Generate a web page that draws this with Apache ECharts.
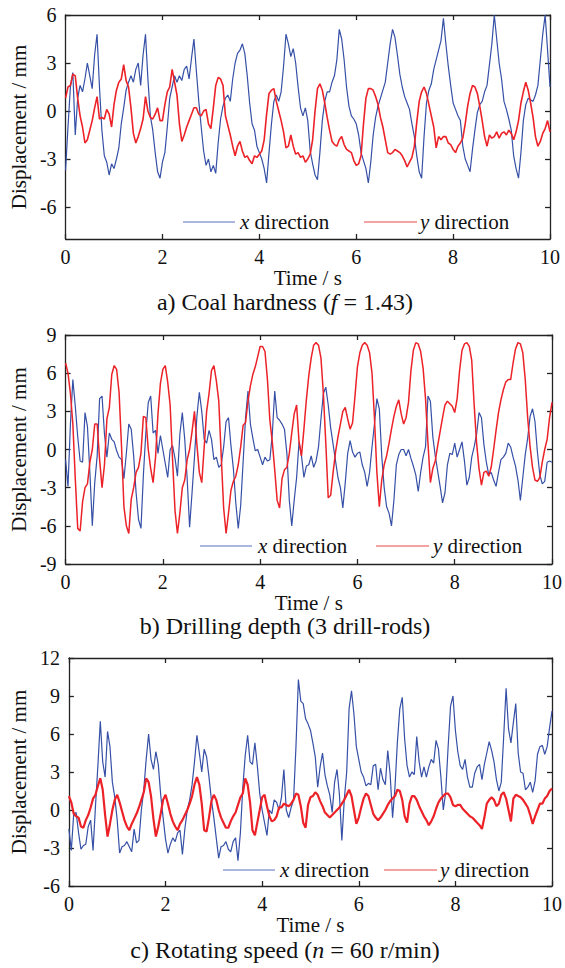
<!DOCTYPE html>
<html><head><meta charset="utf-8">
<script src="https://cdn.jsdelivr.net/npm/echarts@6/dist/echarts.min.js"></script>
<style>
html,body{margin:0;padding:0;background:#fff}
#c{width:565px;height:968px}
#c svg text, #c svg tspan{font-family:"Liberation Serif","Times New Roman",serif !important;}
</style>
</head><body><div id="c"></div>
<script>
// Sampling grid: 0 to 10 s, step 0.05 s
const sampleTimes = Array.from({length: 201}, (_, i) => Math.round(i * 5) / 100);
const xTicks = [0, 2, 4, 6, 8, 10];
const yTicksA = [-6, -3, 0, 3, 6];
const seriesNames = ['x direction', 'y direction'];

// a) Coal hardness (f = 1.43)
const aX = [
-3.7,-1.0,1.5,2.4,-1.5,0.8,1.6,1.2,2.0,3.0,2.2,1.4,3.5,4.8,1.5,-1.2,-2.8,-3.2,-4.0,-3.3,
-3.6,-3.0,-2.3,-0.8,0.2,1.3,1.8,2.2,1.8,2.6,3.0,1.6,3.5,4.8,2.0,-0.3,-1.2,-2.6,-3.8,-4.2,
-3.2,-2.6,-1.0,0.8,1.5,2.2,1.8,2.2,1.9,2.6,2.8,2.0,3.3,4.5,2.5,0.6,-1.0,-2.5,-3.4,-3.0,
-3.8,-3.4,-3.9,-2.0,-0.5,0.3,0.8,1.0,0.6,2.0,3.0,3.6,3.8,4.2,3.6,2.2,0.5,-0.8,-1.2,-2.2,
-2.6,-3.0,-3.6,-4.5,-2.6,-0.8,0.6,1.0,0.6,1.2,2.8,4.8,4.2,3.4,3.9,3.0,1.5,0.2,-0.3,0.2,
-0.6,-2.5,-3.3,-4.0,-4.3,-2.6,-0.6,0.6,1.2,1.2,1.8,2.2,3.2,5.1,4.5,3.2,1.5,0.3,-0.3,-0.5,
-0.8,-1.5,-2.6,-3.1,-3.6,-4.5,-3.2,-1.5,-0.4,0.3,0.8,1.3,1.8,3.0,4.2,5.1,4.6,3.5,2.3,1.5,
0.9,0.5,0.1,-0.8,-1.6,-2.8,-3.8,-4.2,-1.6,0.5,1.3,1.7,2.6,3.2,3.8,4.4,5.8,4.2,2.8,1.6,
0.5,0.1,-0.3,-0.6,-2.2,-3.0,-3.4,-3.8,-2.4,-1.2,-0.1,0.4,0.6,1.2,1.6,2.9,4.2,6.0,4.5,3.0,
2.0,0.6,0.1,-0.5,-1.2,-2.8,-3.6,-4.2,-2.6,-0.6,0.4,0.8,0.7,0.6,1.0,1.6,3.2,4.8,6.0,3.8,
1.5];
const aY = [
0.8,1.5,1.6,2.3,2.2,0.8,-0.3,-1.0,-2.0,-1.8,-1.2,-0.6,0.2,0.9,-0.5,-0.4,-0.5,0.1,-0.2,-1.0,
0.4,1.3,1.8,2.0,2.9,1.9,1.5,0.2,-1.4,-2.0,-1.6,-1.1,-0.5,0.9,0.0,-0.4,-0.5,-0.2,0.2,-0.6,
-0.6,0.4,1.2,1.5,2.6,1.8,1.0,-0.8,-1.9,-1.5,-1.0,-0.6,-0.2,0.2,0.2,-0.2,-0.3,0.0,0.1,-0.8,
-1.1,0.2,1.6,2.1,2.0,1.6,-0.3,-0.9,-1.5,-2.2,-2.8,-2.2,-1.9,-2.5,-2.9,-2.8,-3.1,-3.3,-2.8,-2.9,
-2.7,-2.5,-1.8,-0.2,1.1,1.3,1.4,0.6,0.0,-0.6,-1.3,-2.3,-2.2,-1.5,-2.2,-2.7,-2.6,-2.9,-2.8,-3.2,
-3.0,-2.7,-1.8,0.0,1.4,1.7,1.3,0.5,-0.4,-1.2,-1.9,-2.1,-2.2,-1.8,-1.6,-2.1,-2.4,-2.5,-2.6,-3.1,
-3.4,-3.3,-2.8,-0.8,0.8,1.4,1.4,1.3,0.9,0.4,-0.4,-1.0,-1.8,-2.6,-2.7,-2.6,-2.4,-2.5,-2.6,-2.8,
-3.1,-3.5,-3.2,-2.9,-2.2,-0.7,0.6,1.2,1.5,1.1,0.4,-0.3,-1.0,-2.3,-1.6,-1.8,-1.6,-1.6,-2.0,-2.1,
-2.4,-2.6,-2.2,-2.0,-1.7,-0.8,0.3,1.1,1.6,1.5,1.1,0.3,-0.6,-1.6,-2.2,-1.5,-1.7,-1.6,-1.3,-1.7,
-1.4,-1.3,-1.5,-1.2,-1.4,-1.8,-1.3,-0.6,0.5,1.2,1.8,1.3,0.5,-0.4,-1.6,-2.2,-1.9,-1.4,-1.1,-0.6,
-1.3];

// b) Drilling depth (3 drill-rods)
const bX = [
-0.8,-2.9,2.0,5.5,3.4,1.0,-0.9,-1.0,2.9,1.8,-1.8,-6.0,-2.6,-0.5,4.0,4.2,1.2,-0.6,1.3,0.8,
0.6,-0.1,-0.6,-0.8,-2.3,-0.3,2.0,1.6,-0.5,-3.4,-5.5,-6.2,-2.0,1.3,3.7,4.2,1.3,1.5,-0.3,1.1,
0.0,-1.1,-2.2,0.0,0.3,-0.7,-2.1,1.2,2.9,0.8,-2.3,-6.1,-3.4,-0.6,2.6,4.5,3.0,0.8,0.5,1.5,
0.8,-0.8,-0.6,-1.4,-1.2,0.2,2.2,2.5,0.3,-1.5,-4.2,-6.2,-4.4,-1.0,2.5,4.6,2.0,0.9,-0.1,0.0,
-0.6,-1.2,-0.6,-0.9,-0.8,1.2,4.6,2.5,2.3,2.0,1.6,-0.3,-4.0,-6.0,-4.0,-2.2,0.6,-0.5,-2.2,-1.3,
-1.2,-0.5,-1.4,-0.9,0.2,2.4,4.4,4.9,3.5,1.7,0.4,-0.9,-2.2,-3.0,-4.6,-2.6,-0.3,0.7,-0.2,-0.6,
-0.3,-0.2,-1.2,-1.8,-2.9,-1.8,0.2,2.0,4.0,3.2,-0.5,-3.0,-4.5,-5.0,-6.0,-4.0,-1.2,-0.4,0.0,0.0,
-0.5,0.0,-0.7,-1.3,-2.0,-3.3,-1.8,-0.6,0.2,4.2,3.8,1.0,-0.5,-1.7,-2.9,-4.2,-3.4,-1.2,-0.3,-0.4,
0.5,-0.6,0.0,0.6,-0.9,-2.8,-2.2,-0.6,0.2,1.2,2.9,2.5,0.4,-1.0,-2.0,-1.8,-2.4,-2.9,-1.8,-0.8,
-0.6,-0.3,0.5,0.2,-0.6,-1.3,-2.4,-4.0,-2.2,-0.4,0.9,2.6,3.2,2.2,-0.2,-2.0,-2.7,-2.5,-1.0,-0.9,
-1.0];
const bY = [
6.8,6.0,4.4,2.0,-2.3,-6.2,-6.4,-4.1,-3.0,-2.7,-1.0,0.0,2.0,2.0,-0.8,-3.0,-1.2,2.4,3.3,5.9,
6.6,6.3,4.5,0.3,-4.5,-6.0,-6.6,-3.9,-3.0,-1.8,-1.4,-0.3,2.6,2.5,0.0,-1.5,-2.6,-0.6,2.8,5.2,
6.3,6.6,5.3,3.5,-0.8,-4.8,-6.6,-5.0,-3.0,-2.4,-0.8,0.0,1.4,3.0,0.4,-1.8,-2.6,0.2,3.0,4.4,
6.2,6.6,5.4,3.8,-0.5,-4.6,-6.6,-5.0,-3.2,-2.5,-2.1,-1.2,0.2,1.9,2.1,3.8,5.0,5.9,6.5,7.3,
8.1,8.1,7.7,5.5,2.3,0.6,-1.6,-4.0,-4.6,-2.3,-1.6,-1.4,-0.3,1.3,2.8,3.5,0.6,-0.5,1.6,3.9,
5.8,7.2,8.2,8.4,8.2,7.2,4.4,0.5,-3.8,-3.6,-1.8,-0.2,1.0,2.0,3.0,3.3,2.4,1.6,2.1,4.2,
6.5,7.6,8.2,8.4,8.2,7.6,6.0,2.5,-1.8,-4.5,-2.4,-1.2,-0.5,0.5,1.6,2.6,3.4,3.9,2.8,2.0,
2.5,3.7,6.2,7.8,8.4,8.3,7.7,6.4,4.0,0.5,-2.6,-1.5,-0.9,0.3,1.4,2.5,3.5,3.8,3.6,3.4,
2.9,4.0,6.2,7.8,8.3,8.4,8.1,7.0,3.5,0.5,-1.5,-2.8,-1.8,-1.7,-2.1,-1.4,0.0,1.5,2.9,3.9,
4.7,5.3,5.5,5.5,6.8,7.9,8.4,8.3,7.6,5.5,2.5,0.2,-1.4,-2.4,-2.5,-2.2,-1.0,0.0,0.8,2.5,
3.7];

// c) Rotating speed (n = 60 r/min)
const cX = [
-1.5,-3.2,-0.3,-0.2,-1.8,-3.1,-2.8,-2.7,-1.3,-0.8,-3.2,0.3,3.5,7.0,3.8,2.6,6.2,5.0,2.2,1.0,
-0.8,-3.4,-2.9,-2.8,-2.5,-2.9,-3.3,-1.5,-2.6,-2.4,0.0,1.6,4.0,6.0,4.0,3.2,4.6,3.6,1.2,-0.6,
-2.3,-3.4,-2.7,-2.2,-2.5,-1.8,-1.6,-3.5,-1.5,0.0,0.8,2.0,3.8,5.9,4.5,3.0,4.8,4.2,2.6,0.8,
-0.6,-2.2,-3.8,-2.9,-2.8,-2.5,-3.1,-3.3,-2.5,-2.2,-4.0,-1.8,1.8,4.3,5.9,3.8,3.6,5.3,3.5,1.3,
0.0,-1.0,-2.0,0.0,-0.3,0.8,0.6,0.0,1.0,3.2,0.0,-0.6,0.2,0.8,5.0,10.3,8.6,8.4,7.2,6.8,
6.3,5.3,4.2,1.8,3.4,4.5,2.8,1.9,1.2,-0.2,2.2,3.2,1.2,-2.4,0.8,3.0,8.0,9.4,7.6,5.0,
4.0,3.0,2.6,1.9,2.1,2.0,3.5,3.6,1.6,3.3,2.4,2.0,4.7,2.8,-0.6,1.8,5.4,8.0,8.9,5.6,
3.5,2.6,3.0,2.8,5.8,3.8,2.6,3.4,2.6,3.4,4.0,3.7,5.5,4.8,2.6,0.0,1.4,5.0,8.2,9.0,
6.3,4.6,3.5,3.2,4.0,2.6,1.8,1.8,2.9,3.4,3.6,2.4,3.6,4.5,5.4,4.7,3.8,2.4,1.5,2.2,
5.8,9.6,6.4,5.3,6.9,8.4,4.5,3.0,2.9,1.6,1.8,2.2,1.4,2.3,4.4,5.0,5.1,4.4,5.0,6.5,
7.8];
const cY = [
1.1,0.6,-0.3,-0.5,-0.6,-1.3,-1.4,-0.8,-0.4,0.2,0.9,1.2,1.9,2.5,1.6,-0.4,-2.1,-1.1,0.0,0.8,
1.2,0.6,-0.1,-0.8,-1.3,-1.6,-1.1,-0.7,-0.3,0.2,0.8,1.4,2.5,2.2,1.1,-0.7,-2.1,-1.3,-0.3,0.8,
1.2,0.5,-0.3,-0.9,-1.3,-1.6,-1.1,-0.8,-0.4,0.0,0.5,1.1,2.0,2.6,2.0,0.5,-1.6,-1.7,-0.6,0.7,
1.2,0.8,0.0,-0.6,-1.0,-1.4,-1.4,-0.9,-0.5,-0.2,0.4,1.0,1.3,2.5,2.0,0.6,-1.6,-2.0,-1.0,0.0,
1.0,1.2,0.3,-0.5,-0.9,-0.8,-0.5,0.2,0.2,0.5,0.4,0.3,0.5,0.8,1.3,1.2,0.3,-1.0,-1.4,0.4,
1.0,1.1,1.4,1.2,0.7,0.3,-0.2,-0.4,-0.6,-0.4,-0.2,0.0,0.2,0.5,0.8,1.2,1.6,1.1,0.0,-1.1,
-0.6,0.2,0.9,1.3,1.1,0.4,-0.3,-0.6,-0.8,-0.6,-0.3,0.0,0.4,0.7,0.9,1.1,1.6,1.5,0.8,-0.5,
-1.0,0.5,1.1,1.1,0.8,0.3,-0.1,-0.5,-0.8,-1.2,-0.9,-0.5,0.1,0.6,0.9,1.1,1.3,1.3,1.0,0.4,
0.3,0.4,0.4,0.1,-0.1,-0.3,-0.5,-0.6,-0.8,-1.0,-1.2,-1.5,-0.6,0.5,0.8,1.0,0.8,0.3,0.5,1.2,
1.4,0.9,0.0,-0.9,0.9,1.2,1.1,1.0,0.8,0.5,0.2,-0.4,-1.1,-0.5,0.0,0.5,0.5,0.9,1.1,1.5,
1.7];

(function () {
  const SERIF = 'Liberation Serif';
  const TXT = '#111';
  const AX = '#222';
  const BLUE = '#3550a6';
  const RED = '#ec2228';
  const BLUE_LEG = '#8e9fd4';
  const RED_LEG = '#f08383';

  const pairs = vals => sampleTimes.map((t, i) => [t, vals[i]]);

  const panels = [
    {grid: {left: 60, top: 15, width: 490, height: 224}, min: -8, max: 6, ticks: yTicksA, x: aX, y: aY, wx: 1.2, wy: 1.6,
     leg: {y: 222, l1: 183, t1: 240, l2: 364, t2: 420}, cap: 'a) Coal hardness ({i|f} = 1.43)', capTop: 290},
    {grid: {left: 60, top: 335, width: 492, height: 229}, min: -9, max: 9, interval: 3, x: bX, y: bY, wx: 1.2, wy: 1.5,
     leg: {y: 546, l1: 200, t1: 258, l2: 376, t2: 433}, cap: 'b) Drilling depth (3 drill-rods)', capTop: 614},
    {grid: {left: 63, top: 658, width: 490, height: 228}, min: -6, max: 12, interval: 3, x: cX, y: cY, wx: 1.2, wy: 2.2,
     leg: {y: 870, l1: 223, t1: 280, l2: 384, t2: 440}, cap: 'c) Rotating speed ({i|n} = 60 r/min)', capTop: 938}
  ];

  const txt = (size, extra) => Object.assign({fontFamily: SERIF, fontSize: size, fontWeight: 'normal', color: TXT}, extra || {});

  const grids = [], xAxes = [], yAxes = [], lines = [], graphics = [], titles = [];
  panels.forEach((p, gi) => {
    grids.push(p.grid);
    const mk = () => ({
      axisLine: {show: true, onZero: false, lineStyle: {color: AX, width: 1.3}},
      axisTick: {show: true, inside: true, length: 5, lineStyle: {color: AX, width: 1.3}},
      splitLine: {show: false}
    });
    xAxes.push(Object.assign(mk(), {gridIndex: gi, type: 'value', min: 0, max: 10, interval: 2,
      position: 'bottom', name: 'Time / s', nameLocation: 'middle', nameGap: 26,
      nameTextStyle: txt(21), axisLabel: txt(20, {margin: 8})}));
    xAxes.push(Object.assign(mk(), {gridIndex: gi, type: 'value', min: 0, max: 10, interval: 2,
      position: 'top', axisLabel: {show: false}}));
    const yl = txt(20, {margin: 9});
    const yA = mk();
    if (p.ticks) { yl.customValues = p.ticks; yA.axisTick.customValues = p.ticks; }
    const yB = mk();
    if (p.ticks) yB.axisTick.customValues = p.ticks;
    yAxes.push(Object.assign(yA, {gridIndex: gi, type: 'value', min: p.min, max: p.max, interval: p.interval,
      position: 'left', name: 'Displacement / mm', nameLocation: 'middle',
      nameGap: 29, nameRotate: 90, nameTextStyle: txt(21), axisLabel: yl}));
    yAxes.push(Object.assign(yB, {gridIndex: gi, type: 'value', min: p.min, max: p.max, interval: p.interval,
      position: 'right', axisLabel: {show: false}}));
    lines.push({type: 'line', name: seriesNames[0], xAxisIndex: 2 * gi, yAxisIndex: 2 * gi, data: pairs(p.x),
      showSymbol: false, symbol: 'none', color: BLUE, lineStyle: {color: BLUE, width: p.wx}});
    lines.push({type: 'line', name: seriesNames[1], xAxisIndex: 2 * gi, yAxisIndex: 2 * gi, data: pairs(p.y),
      showSymbol: false, symbol: 'none', color: RED, lineStyle: {color: RED, width: p.wy}});
    // legend keys drawn inside each plot
    const L = p.leg;
    graphics.push({type: 'line', shape: {x1: L.l1, y1: L.y, x2: L.l1 + 52, y2: L.y}, style: {stroke: BLUE_LEG, lineWidth: 1.5}, z: 100});
    graphics.push({type: 'line', shape: {x1: L.l2, y1: L.y, x2: L.l2 + 53, y2: L.y}, style: {stroke: RED_LEG, lineWidth: 1.5}, z: 100});
    graphics.push({type: 'text', x: L.t1, y: L.y, z: 100, style: Object.assign(txt(21), {text: '{i|x} direction',
      fill: TXT, verticalAlign: 'middle', rich: {i: txt(21, {fontStyle: 'italic'})}})});
    graphics.push({type: 'text', x: L.t2, y: L.y, z: 100, style: Object.assign(txt(21), {text: '{i|y} direction',
      fill: TXT, verticalAlign: 'middle', rich: {i: txt(21, {fontStyle: 'italic'})}})});
    titles.push({text: p.cap, left: 285, top: p.capTop, textAlign: 'center', padding: 0,
      textStyle: txt(24, {rich: {i: txt(24, {fontStyle: 'italic'})}})});
  });

  const chart = echarts.init(document.getElementById('c'), null, {renderer: 'svg'});
  chart.setOption({textStyle: {fontFamily: SERIF}, grid: grids, xAxis: xAxes, yAxis: yAxes,
    series: lines, graphic: graphics, title: titles});
})();
</script>
</body></html>
